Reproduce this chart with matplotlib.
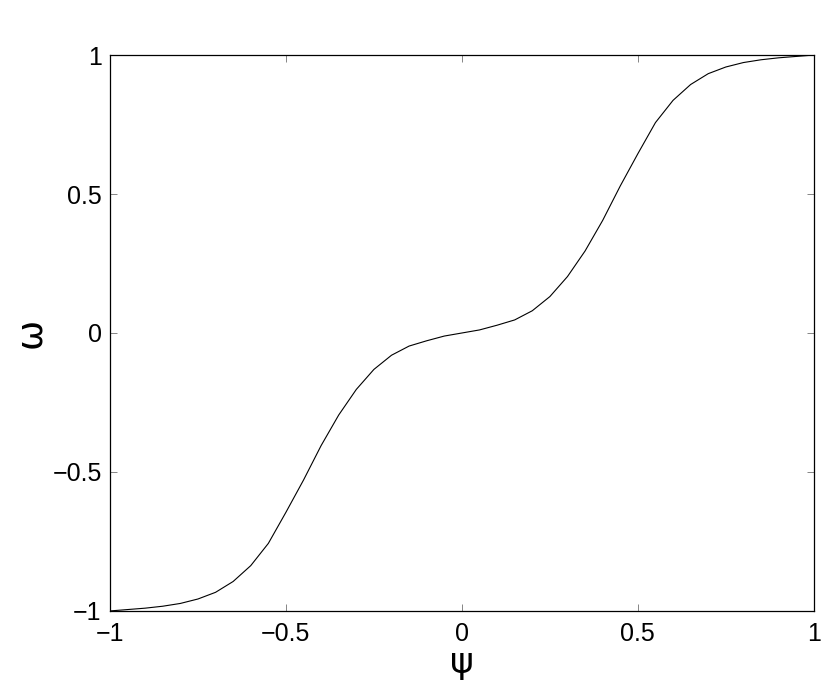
import numpy as np
import matplotlib
matplotlib.use("Agg")
import matplotlib.pyplot as plt

# psi grid (step 0.05) and omega values
psi = [-1.00, -0.95, -0.90, -0.85, -0.80, -0.75, -0.70, -0.65, -0.60, -0.55,
       -0.50, -0.45, -0.40, -0.35, -0.30, -0.25, -0.20, -0.15, -0.10, -0.05,
       0.00, 0.05, 0.10, 0.15, 0.20, 0.25, 0.30, 0.35, 0.40, 0.45,
       0.50, 0.55, 0.60, 0.65, 0.70, 0.75, 0.80, 0.85, 0.90, 0.95, 1.00]
omega = [-1.000, -0.995, -0.990, -0.983, -0.973, -0.957, -0.933, -0.894, -0.837, -0.757,
         -0.645, -0.529, -0.405, -0.295, -0.203, -0.131, -0.080, -0.047, -0.028, -0.011,
         0.000, 0.011, 0.028, 0.047, 0.080, 0.131, 0.203, 0.295, 0.405, 0.529,
         0.645, 0.757, 0.837, 0.894, 0.933, 0.957, 0.973, 0.983, 0.990, 0.995, 1.000]

xticks = [-1, -0.5, 0, 0.5, 1]
yticks = [-1, -0.5, 0, 0.5, 1]
xticklabels = ['\u22121', '\u22120.5', '0', '0.5', '1']
yticklabels = ['\u22121', '\u22120.5', '0', '0.5', '1']

plt.rcParams['font.family'] = ['Liberation Sans', 'DejaVu Sans']

fig = plt.figure(figsize=(8.3, 6.88), dpi=100)
ax = fig.add_axes([0.1325, 0.112, 0.848, 0.808])

ax.plot(psi, omega, color='black', linewidth=0.8)

ax.set_xlim(-1, 1)
ax.set_ylim(-1, 1)
ax.set_xticks(xticks)
ax.set_yticks(yticks)
ax.set_xticklabels(xticklabels)
ax.set_yticklabels(yticklabels)
ax.tick_params(direction='in', length=5, width=0.5, labelsize=18,
               top=True, right=True, color='#555555')
ax.tick_params(axis='x', pad=8)
ax.tick_params(axis='y', pad=6)
for s in ax.spines.values():
    s.set_linewidth(0.9)

ax.set_xlabel('\u03c8', fontsize=26, family='DejaVu Sans', labelpad=0)
ax.set_ylabel('\u03c9', fontsize=26, family='DejaVu Sans', labelpad=4)

fig.savefig('out.png', dpi=100)
